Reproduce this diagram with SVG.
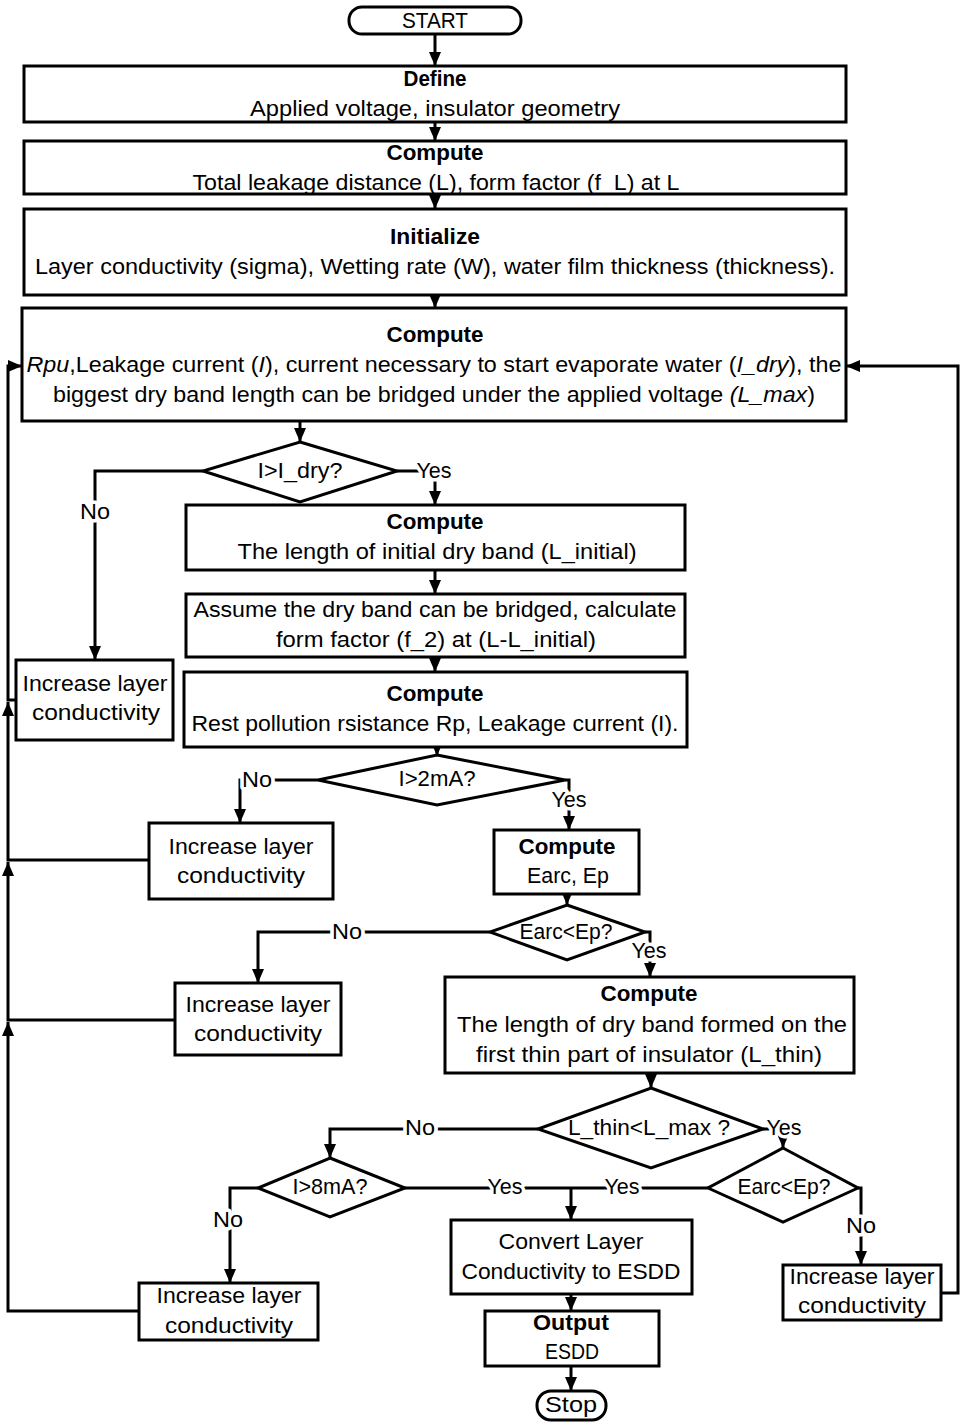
<svg xmlns="http://www.w3.org/2000/svg" width="964" height="1427" viewBox="0 0 964 1427">
<style>
text{font-family:"Liberation Sans",Arial,sans-serif;font-size:22px;fill:#000;text-anchor:middle;white-space:pre}
.b{font-weight:bold}
.i{font-style:italic}
.box{fill:#fff;stroke:#000;stroke-width:3}
.con{fill:none;stroke:#000;stroke-width:3}
.lbl{stroke:#fff;stroke-width:7;paint-order:stroke;stroke-linejoin:round}
</style>
<defs>
<marker id="ah" viewBox="0 0 14 12" refX="14" refY="6" markerWidth="14" markerHeight="12" markerUnits="userSpaceOnUse" orient="auto"><path d="M0,0 L14,6 L0,12 z" fill="#000"/></marker>
</defs>
<rect width="964" height="1427" fill="#fff"/>

<g id="connectors">
<path class="con" d="M435,33 V66" marker-end="url(#ah)"/>
<path class="con" d="M435,122 V141" marker-end="url(#ah)"/>
<path class="con" d="M435,194 V209" marker-end="url(#ah)"/>
<path class="con" d="M435,295 V308" marker-end="url(#ah)"/>
<path class="con" d="M300,421 V442" marker-end="url(#ah)"/>
<path class="con" d="M203,471 H95 V660" marker-end="url(#ah)"/>
<path class="con" d="M397,471 H435 V505" marker-end="url(#ah)"/>
<path class="con" d="M435,570 V594" marker-end="url(#ah)"/>
<path class="con" d="M435,657 V672" marker-end="url(#ah)"/>
<path class="con" d="M437,745 V756" marker-end="url(#ah)"/>
<path class="con" d="M318,780 H240 V823" marker-end="url(#ah)"/>
<path class="con" d="M565,780 H569 V830" marker-end="url(#ah)"/>
<path class="con" d="M567,894 V905" marker-end="url(#ah)"/>
<path class="con" d="M490,932 H258 V983" marker-end="url(#ah)"/>
<path class="con" d="M645,932 H650 V977" marker-end="url(#ah)"/>
<path class="con" d="M651,1073 V1088" marker-end="url(#ah)"/>
<path class="con" d="M538,1129 H330 V1158" marker-end="url(#ah)"/>
<path class="con" d="M763,1129 H783 V1148" marker-end="url(#ah)"/>
<path class="con" d="M258,1188 H230 V1283" marker-end="url(#ah)"/>
<path class="con" d="M405,1188 H708"/>
<path class="con" d="M571,1188 V1220" marker-end="url(#ah)"/>
<path class="con" d="M858,1188 H861 V1265" marker-end="url(#ah)"/>
<path class="con" d="M571,1294 V1311" marker-end="url(#ah)"/>
<path class="con" d="M571,1366 V1391" marker-end="url(#ah)"/>
<path class="con" d="M941,1293 H958 V366 H846" marker-end="url(#ah)"/>
<path class="con" d="M139,1311 H8 V1022" marker-end="url(#ah)"/>
<path class="con" d="M175,1020 H8 V862" marker-end="url(#ah)"/>
<path class="con" d="M149,860 H8 V702" marker-end="url(#ah)"/>
<path class="con" d="M16,700 H8 V366 H22" marker-end="url(#ah)"/>
<text class="lbl" x="95" y="519" textLength="30" lengthAdjust="spacingAndGlyphs">No</text>
<text class="lbl" x="434" y="478" textLength="35" lengthAdjust="spacingAndGlyphs">Yes</text>
<text class="lbl" x="257" y="787" textLength="30" lengthAdjust="spacingAndGlyphs">No</text>
<text class="lbl" x="569" y="807" textLength="35" lengthAdjust="spacingAndGlyphs">Yes</text>
<text class="lbl" x="347" y="939" textLength="30" lengthAdjust="spacingAndGlyphs">No</text>
<text class="lbl" x="649" y="958" textLength="35" lengthAdjust="spacingAndGlyphs">Yes</text>
<text class="lbl" x="420" y="1135" textLength="30" lengthAdjust="spacingAndGlyphs">No</text>
<text class="lbl" x="784" y="1135" textLength="35" lengthAdjust="spacingAndGlyphs">Yes</text>
<text class="lbl" x="228" y="1227" textLength="30" lengthAdjust="spacingAndGlyphs">No</text>
<text class="lbl" x="505" y="1194" textLength="35" lengthAdjust="spacingAndGlyphs">Yes</text>
<text class="lbl" x="622" y="1194" textLength="35" lengthAdjust="spacingAndGlyphs">Yes</text>
<text class="lbl" x="861" y="1233" textLength="30" lengthAdjust="spacingAndGlyphs">No</text>
</g>

<g id="start">
<rect class="box" x="349" y="7" width="172" height="27" rx="13"/>
<text x="435" y="28" textLength="66" lengthAdjust="spacingAndGlyphs">START</text>
</g>
<g id="define">
<rect class="box" x="24" y="66" width="822" height="56"/>
<text class="b" x="435" y="86" textLength="63" lengthAdjust="spacingAndGlyphs">Define</text>
<text x="435" y="116" textLength="370" lengthAdjust="spacingAndGlyphs">Applied voltage, insulator geometry</text>
</g>
<g id="compute1">
<rect class="box" x="24" y="141" width="822" height="53"/>
<text class="b" x="435" y="160" textLength="97" lengthAdjust="spacingAndGlyphs">Compute</text>
<text x="436" y="190" textLength="487" lengthAdjust="spacingAndGlyphs">Total leakage distance (L), form factor (f  L) at L</text>
</g>
<g id="initialize">
<rect class="box" x="24" y="209" width="822" height="86"/>
<text class="b" x="435" y="244" textLength="90" lengthAdjust="spacingAndGlyphs">Initialize</text>
<text x="435" y="274" textLength="800" lengthAdjust="spacingAndGlyphs">Layer conductivity (sigma), Wetting rate (W), water film thickness (thickness).</text>
</g>
<g id="compute2">
<rect class="box" x="22" y="308" width="824" height="113"/>
<text class="b" x="435" y="342" textLength="97" lengthAdjust="spacingAndGlyphs">Compute</text>
<text x="434" y="372" textLength="815" lengthAdjust="spacingAndGlyphs"><tspan class="i">Rpu</tspan>,Leakage current (<tspan class="i">I</tspan>), current necessary to start evaporate water (<tspan class="i">I_dry</tspan>), the</text>
<text x="434" y="402" textLength="762" lengthAdjust="spacingAndGlyphs">biggest dry band length can be bridged under the applied voltage <tspan class="i">(L_max</tspan>)</text>
</g>
<g id="dec_idry">
<polygon class="box" points="300,442 397,471 300,502 203,471"/>
<text x="300" y="478" textLength="85" lengthAdjust="spacingAndGlyphs">I&gt;I_dry?</text>
</g>
<g id="compute_linitial">
<rect class="box" x="186" y="505" width="499" height="65"/>
<text class="b" x="435" y="529" textLength="97" lengthAdjust="spacingAndGlyphs">Compute</text>
<text x="437" y="559" textLength="399" lengthAdjust="spacingAndGlyphs">The length of initial dry band (L_initial)</text>
</g>
<g id="assume">
<rect class="box" x="186" y="594" width="499" height="63"/>
<text x="435" y="617" textLength="483" lengthAdjust="spacingAndGlyphs">Assume the dry band can be bridged, calculate</text>
<text x="436" y="647" textLength="320" lengthAdjust="spacingAndGlyphs">form factor (f_2) at (L-L_initial)</text>
</g>
<g id="increase1">
<rect class="box" x="16" y="660" width="157" height="80"/>
<text x="95" y="691" textLength="145" lengthAdjust="spacingAndGlyphs">Increase layer</text>
<text x="96" y="720" textLength="128" lengthAdjust="spacingAndGlyphs">conductivity</text>
</g>
<g id="compute_rest">
<rect class="box" x="184" y="672" width="503" height="75"/>
<text class="b" x="435" y="701" textLength="97" lengthAdjust="spacingAndGlyphs">Compute</text>
<text x="435" y="731" textLength="487" lengthAdjust="spacingAndGlyphs">Rest pollution rsistance Rp, Leakage current (I).</text>
</g>
<g id="dec_2ma">
<polygon class="box" points="437,755 565,780 437,805 318,780"/>
<text x="437" y="786" textLength="77" lengthAdjust="spacingAndGlyphs">I&gt;2mA?</text>
</g>
<g id="increase2">
<rect class="box" x="149" y="823" width="184" height="76"/>
<text x="241" y="854" textLength="145" lengthAdjust="spacingAndGlyphs">Increase layer</text>
<text x="241" y="883" textLength="128" lengthAdjust="spacingAndGlyphs">conductivity</text>
</g>
<g id="compute_earc">
<rect class="box" x="494" y="830" width="145" height="64"/>
<text class="b" x="567" y="854" textLength="97" lengthAdjust="spacingAndGlyphs">Compute</text>
<text x="568" y="883" textLength="82" lengthAdjust="spacingAndGlyphs">Earc, Ep</text>
</g>
<g id="dec_earc1">
<polygon class="box" points="567,905 645,932 567,960 490,932"/>
<text x="566" y="939" textLength="93" lengthAdjust="spacingAndGlyphs">Earc&lt;Ep?</text>
</g>
<g id="increase3">
<rect class="box" x="175" y="983" width="166" height="72"/>
<text x="258" y="1012" textLength="145" lengthAdjust="spacingAndGlyphs">Increase layer</text>
<text x="258" y="1041" textLength="128" lengthAdjust="spacingAndGlyphs">conductivity</text>
</g>
<g id="compute_lthin">
<rect class="box" x="445" y="977" width="409" height="96"/>
<text class="b" x="649" y="1001" textLength="97" lengthAdjust="spacingAndGlyphs">Compute</text>
<text x="652" y="1032" textLength="390" lengthAdjust="spacingAndGlyphs">The length of dry band formed on the</text>
<text x="649" y="1062" textLength="346" lengthAdjust="spacingAndGlyphs">first thin part of insulator (L_thin)</text>
</g>
<g id="dec_lthin">
<polygon class="box" points="651,1088 763,1129 651,1168 538,1129"/>
<text x="649" y="1135" textLength="162" lengthAdjust="spacingAndGlyphs">L_thin&lt;L_max ?</text>
</g>
<g id="dec_8ma">
<polygon class="box" points="330,1158 405,1188 330,1217 258,1188"/>
<text x="330" y="1194" textLength="75" lengthAdjust="spacingAndGlyphs">I&gt;8mA?</text>
</g>
<g id="dec_earc2">
<polygon class="box" points="783,1148 858,1188 783,1222 708,1188"/>
<text x="784" y="1194" textLength="93" lengthAdjust="spacingAndGlyphs">Earc&lt;Ep?</text>
</g>
<g id="convert">
<rect class="box" x="451" y="1220" width="241" height="74"/>
<text x="571" y="1249" textLength="145" lengthAdjust="spacingAndGlyphs">Convert Layer</text>
<text x="571" y="1279" textLength="219" lengthAdjust="spacingAndGlyphs">Conductivity to ESDD</text>
</g>
<g id="increase4">
<rect class="box" x="139" y="1283" width="179" height="57"/>
<text x="229" y="1303" textLength="145" lengthAdjust="spacingAndGlyphs">Increase layer</text>
<text x="229" y="1333" textLength="128" lengthAdjust="spacingAndGlyphs">conductivity</text>
</g>
<g id="increase5">
<rect class="box" x="783" y="1265" width="158" height="55"/>
<text x="862" y="1284" textLength="145" lengthAdjust="spacingAndGlyphs">Increase layer</text>
<text x="862" y="1313" textLength="128" lengthAdjust="spacingAndGlyphs">conductivity</text>
</g>
<g id="output">
<rect class="box" x="485" y="1311" width="174" height="55"/>
<text class="b" x="571" y="1330" textLength="76" lengthAdjust="spacingAndGlyphs">Output</text>
<text x="572" y="1359" textLength="54" lengthAdjust="spacingAndGlyphs">ESDD</text>
</g>
<g id="stop">
<rect class="box" x="537" y="1391" width="69" height="29" rx="14"/>
<text x="571" y="1412" textLength="52" lengthAdjust="spacingAndGlyphs">Stop</text>
</g>
</svg>
